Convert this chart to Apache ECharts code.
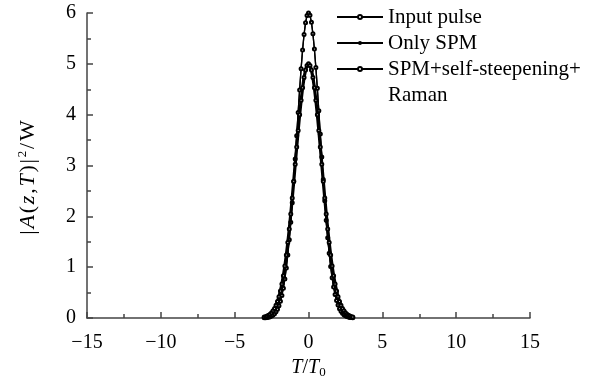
<!DOCTYPE html>
<html>
<head>
<meta charset="utf-8">
<script src="https://cdn.jsdelivr.net/npm/echarts@6/dist/echarts.min.js"></script>
<style>
html,body{margin:0;padding:0;background:#fff;}
#chart{width:590px;height:379px;}
</style>
</head>
<body>
<div id="chart"></div>
<script>
// Normalized time T/T0 (sample points)
var tValues = [-3.0,-2.9,-2.8,-2.7,-2.6,-2.5,-2.4,-2.3,-2.2,-2.1,-2.0,-1.9,-1.8,-1.7,-1.6,-1.5,-1.4,-1.3,-1.2,-1.1,-1.0,-0.9,-0.8,-0.7,-0.6,-0.5,-0.4,-0.3,-0.2,-0.1,0.0,0.1,0.2,0.3,0.4,0.5,0.6,0.7,0.8,0.9,1.0,1.1,1.2,1.3,1.4,1.5,1.6,1.7,1.8,1.9,2.0,2.1,2.2,2.3,2.4,2.5,2.6,2.7,2.8,2.9,3.0];
// Input pulse |A|^2 (W)
var inputPulse = [0.019,0.027,0.039,0.054,0.076,0.104,0.141,0.188,0.249,0.325,0.419,0.533,0.671,0.833,1.023,1.239,1.483,1.753,2.048,2.362,2.690,3.026,3.363,3.690,4.000,4.282,4.528,4.729,4.878,4.969,5.000,4.969,4.878,4.729,4.528,4.282,4.000,3.690,3.363,3.026,2.690,2.362,2.048,1.753,1.483,1.239,1.023,0.833,0.671,0.533,0.419,0.325,0.249,0.188,0.141,0.104,0.076,0.054,0.039,0.027,0.019];
// Only SPM |A|^2 (W)
var onlySPM = [0.004,0.007,0.011,0.018,0.027,0.041,0.061,0.088,0.127,0.178,0.247,0.337,0.453,0.599,0.779,0.998,1.258,1.560,1.904,2.287,2.704,3.146,3.603,4.060,4.503,4.916,5.281,5.585,5.811,5.952,6.000,5.952,5.811,5.585,5.281,4.916,4.503,4.060,3.603,3.146,2.704,2.287,1.904,1.560,1.258,0.998,0.779,0.599,0.453,0.337,0.247,0.178,0.127,0.088,0.061,0.041,0.027,0.018,0.011,0.007,0.004];
// SPM + self-steepening + Raman |A|^2 (W)
var spmSSRaman = [0.004,0.006,0.010,0.017,0.026,0.039,0.058,0.085,0.122,0.172,0.240,0.328,0.442,0.587,0.765,0.982,1.240,1.541,1.884,2.266,2.683,3.126,3.584,4.042,4.487,4.902,5.270,5.577,5.806,5.950,5.998,5.954,5.816,5.593,5.292,4.930,4.519,4.078,3.622,3.166,2.725,2.308,1.924,1.579,1.276,1.014,0.793,0.611,0.463,0.345,0.254,0.184,0.131,0.092,0.064,0.043,0.029,0.019,0.012,0.008,0.005];
// Tick labels
var xTicks = [-15,-10,-5,0,5,10,15];
var yTicks = [0,1,2,3,4,5,6];
var seriesNames = ['Input pulse','Only SPM','SPM+self-steepening+Raman'];
var legendLine3a = 'SPM+self-steepening+';
var legendLine3b = 'Raman';

function zip(xs, ys){ return xs.map(function(x,i){ return [x, ys[i]]; }); }

var font = "'Liberation Serif', 'Times New Roman', serif";
var pd = [0,0.9,0,0.9];
var chart = echarts.init(document.getElementById('chart'), null, {renderer:'canvas'});
chart.setOption({
  animation:false,
  backgroundColor:'#fff',
  grid:{left:87,right:60,top:13,bottom:61,containLabel:false,outerBoundsMode:'none'},
  legend:{
    orient:'vertical',
    left:336, top:4, padding:0,
    itemWidth:46, itemHeight:5, itemGap:0,
    textStyle:{fontFamily:font,fontSize:21,lineHeight:26,color:'#000'},
    formatter:function(n){ return n===seriesNames[2] ? legendLine3a : n; },
    data:seriesNames
  },
  graphic:[{
    type:'text', left:388, top:82,
    style:{text:legendLine3b, fontFamily:font, fontSize:21, lineHeight:26, fill:'#000'}
  }],
  xAxis:{
    type:'value', min:-15, max:15, interval:5,
    name:'{i|T}/{i|T}{sub|0}', nameLocation:'middle', nameGap:37,
    nameTextStyle:{fontFamily:font,fontSize:20,color:'#000',
      rich:{i:{fontFamily:font,fontSize:20,fontStyle:'italic',color:'#000'},
            sub:{fontFamily:font,fontSize:13,color:'#000',padding:[10,0,0,0]}}},
    axisLine:{show:true,onZero:false,lineStyle:{color:'#444',width:1.5}},
    axisTick:{show:true,inside:true,length:6,lineStyle:{color:'#444',width:1.5}},
    minorTick:{show:true,splitNumber:2,length:4,lineStyle:{color:'#444',width:1.5}},
    axisLabel:{fontFamily:font,fontSize:20,color:'#000',margin:15,
      formatter:function(v){ return xTicks.indexOf(v)>=0 ? String(v).replace('-','\u2212') : ''; }},
    splitLine:{show:false}
  },
  yAxis:{
    type:'value', min:0, max:6, interval:1,
    name:'{n||}{i|A}{n|(}{i|z}{n|,}{i|T}{n|)}{n||}{sup|2}{n|/}{n|W}', nameLocation:'middle', nameGap:47, nameRotate:90,
    nameTextStyle:{fontFamily:font,fontSize:22,color:'#000',padding:[0,24,0,0],
      rich:{n:{fontFamily:font,fontSize:22,color:'#000',padding:pd},
            i:{fontFamily:font,fontSize:22,fontStyle:'italic',color:'#000',padding:pd},
            sup:{fontFamily:font,fontSize:13,color:'#000',padding:[0,0.9,11,0.9]}}},
    axisLine:{show:true,onZero:false,lineStyle:{color:'#444',width:1.5}},
    axisTick:{show:true,inside:true,length:6,lineStyle:{color:'#444',width:1.5}},
    minorTick:{show:true,splitNumber:2,length:4,lineStyle:{color:'#444',width:1.5}},
    axisLabel:{fontFamily:font,fontSize:20,color:'#000',margin:11,
      formatter:function(v){ return yTicks.indexOf(v)>=0 ? String(v) : ''; }},
    splitLine:{show:false}
  },
  series:[
    {name:seriesNames[0],type:'line',data:zip(tValues,inputPulse),
     symbol:'emptyCircle',symbolSize:3,showSymbol:true,showAllSymbol:true,
     lineStyle:{color:'#000',width:3.2,type:'solid'},itemStyle:{color:'#000'},z:3},
    {name:seriesNames[1],type:'line',data:zip(tValues,onlySPM),
     symbol:'circle',symbolSize:3,showSymbol:true,showAllSymbol:true,
     lineStyle:{color:'#000',width:1.3,type:'solid'},itemStyle:{color:'#000'},z:2},
    {name:seriesNames[2],type:'line',data:zip(tValues,spmSSRaman),
     symbol:'emptyCircle',symbolSize:3,showSymbol:true,showAllSymbol:true,
     lineStyle:{color:'#000',width:1.3,type:'solid'},itemStyle:{color:'#000'},z:2}
  ]
});
</script>
</body>
</html>
